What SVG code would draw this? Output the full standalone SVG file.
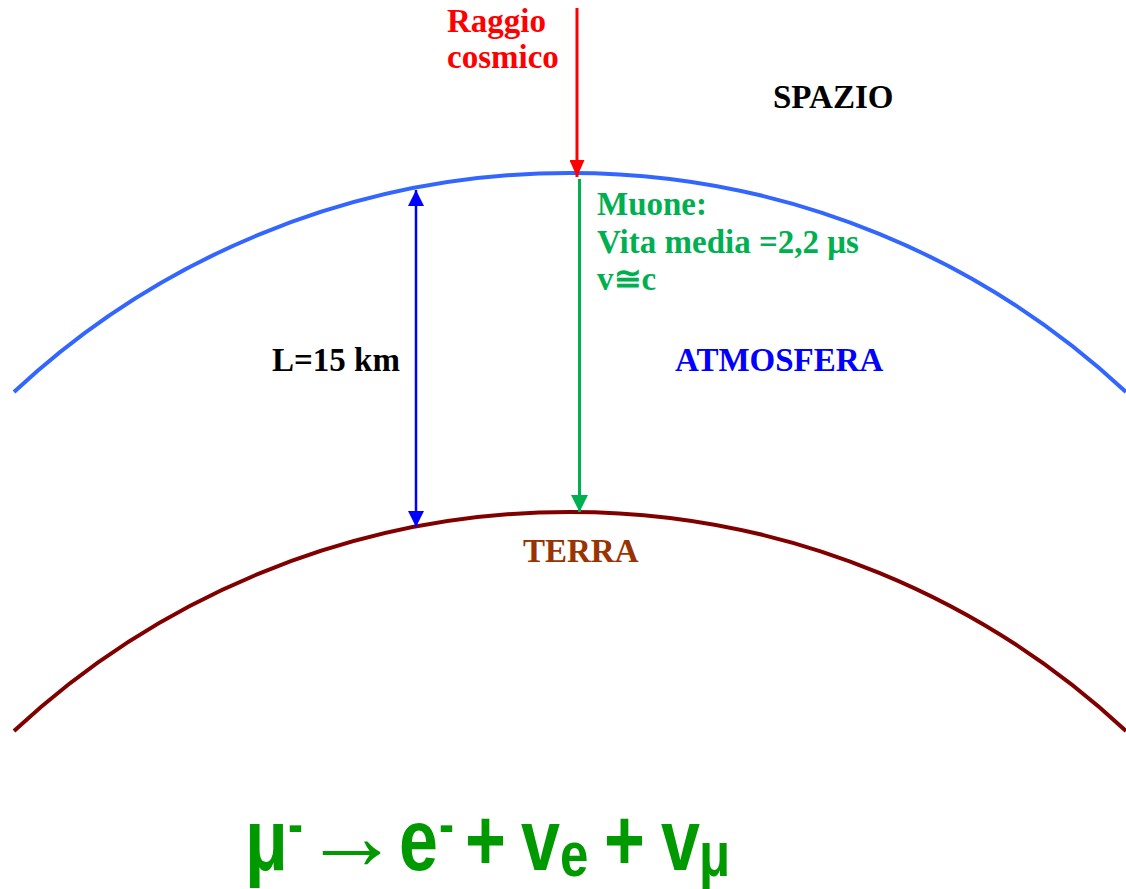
<svg xmlns="http://www.w3.org/2000/svg" width="1126" height="889" viewBox="0 0 1126 889">
<style>
.t{font-family:"Liberation Serif","Times New Roman",serif;font-weight:bold;font-size:33px}
.eq{font-family:"Liberation Sans",Arial,sans-serif;font-weight:bold;fill:#009900}
</style>
<defs>
<marker id="hr" viewBox="0 0 17 15" refX="17" refY="7.5" markerWidth="17" markerHeight="15" markerUnits="userSpaceOnUse" orient="auto"><path d="M0,0 L17,7.5 L0,15 Z" fill="#ff0000"/></marker>
<marker id="hg" viewBox="0 0 17 17" refX="17" refY="8.5" markerWidth="17" markerHeight="17" markerUnits="userSpaceOnUse" orient="auto"><path d="M0,0 L17,8.5 L0,17 Z" fill="#00b050"/></marker>
<marker id="hb" viewBox="0 0 16 16" refX="16" refY="8" markerWidth="16" markerHeight="16" markerUnits="userSpaceOnUse" orient="auto-start-reverse"><path d="M0,0 L16,8 L0,16 Z" fill="#0000ff"/></marker>
</defs>
<rect width="1126" height="889" fill="#ffffff"/>
<g id="atmosfera-arc"><path d="M14,392 A815,815 0 0 1 1126,392" fill="none" stroke="#3366ff" stroke-width="4"/></g>
<g id="terra-arc"><path d="M14,731 A815,815 0 0 1 1126,731" fill="none" stroke="#800000" stroke-width="4"/></g>
<g id="connectors">
<line x1="577" y1="8" x2="577" y2="177" stroke="#ff0000" stroke-width="3" marker-end="url(#hr)"/>
<line x1="579.5" y1="179" x2="579.5" y2="512" stroke="#00b050" stroke-width="3" marker-end="url(#hg)"/>
<line x1="416" y1="190" x2="416" y2="527" stroke="#0000ff" stroke-width="2.5" marker-start="url(#hb)" marker-end="url(#hb)"/>
</g>
<g id="raggio"><text class="t" fill="#ff0000"><tspan x="447" y="32">Raggio</tspan><tspan x="447" y="68">cosmico</tspan></text></g>
<g id="spazio"><text class="t" x="773" y="108" fill="#000000">SPAZIO</text></g>
<g id="muone"><text class="t" fill="#00b050"><tspan x="597" y="215">Muone:</tspan><tspan x="597" y="253">Vita media =2,2 μs</tspan><tspan x="597" y="290">v≅c</tspan></text></g>
<g id="lunghezza"><text class="t" x="272" y="371" fill="#000000">L=15 km</text></g>
<g id="atmosfera"><text class="t" x="675" y="371" fill="#0000ff">ATMOSFERA</text></g>
<g id="terra"><text class="t" x="523" y="562" fill="#993300">TERRA</text></g>
<g id="equazione">
<g transform="translate(0,870) scale(1,1.25)">
<text class="eq" font-size="70" x="245" y="0">μ</text>
<text class="eq" font-size="45" x="288" y="-21.4">-</text>
<text class="eq" font-size="70" x="399" y="0">e</text>
<text class="eq" font-size="45" x="439" y="-21.4">-</text>
<text class="eq" font-size="70" x="465" y="0">+</text>
<text class="eq" font-size="70" x="521" y="0">v</text>
<text class="eq" font-size="51" x="560" y="4.8">e</text>
<text class="eq" font-size="70" x="604" y="0">+</text>
<text class="eq" font-size="70" x="661" y="0">v</text>
<text class="eq" font-size="51" x="699" y="4.8">μ</text>
</g>
<text x="303" y="869" font-family="'Liberation Serif',serif" font-size="97" fill="#009900">→</text>
</g>
</svg>
